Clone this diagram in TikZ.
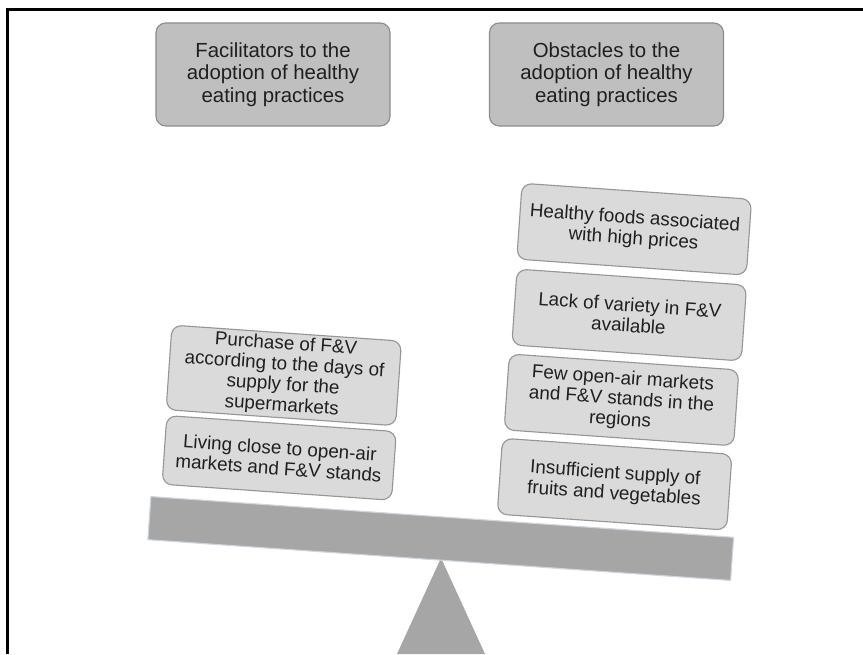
\documentclass[tikz,border=0pt]{standalone}
\usepackage{fontspec}
\setmainfont{Liberation Sans}
\usepackage{tikz}
\usepackage{xcolor}
\usetikzlibrary{positioning}
\definecolor{headfill}{RGB}{191,191,191}
\definecolor{headline}{RGB}{140,140,140}
\definecolor{itemfill}{RGB}{218,218,218}
\definecolor{itemline}{RGB}{150,150,150}
\definecolor{beamgray}{RGB}{166,166,166}
\definecolor{beamedge}{RGB}{205,214,224}

\begin{document}
\begin{tikzpicture}[
  x=0.025cm, y=0.025cm,
  head/.style={draw=headline, fill=headfill, line width=0.8pt, rounded corners=7pt, minimum width=5.85cm, minimum height=2.575cm, font=\fontsize{14.5}{16}\selectfont, align=center, text=black!88},
  item/.style={draw=itemline, fill=itemfill, line width=0.8pt, rounded corners=7pt, minimum width=5.75cm, minimum height=1.9cm, inner sep=2pt, font=\fontsize{13.4}{14.6}\selectfont, align=center, text=black!88, rotate=-4},
  beam/.style={draw=beamedge, fill=beamgray, line width=0.8pt, minimum width=14.6cm, minimum height=1.08cm, inner sep=0pt, rotate=-4},
  frame/.style={line width=0.06cm, black}
]
\useasboundingbox (0,0) rectangle (863,654);

% --- Frame (top and left edge only) ---
\draw[frame] (7.7,0) |- (863,644.5);

% --- Headings ---
\node[head] (facil) at (273,579.5) {Facilitators to the\\adoption of healthy\\eating practices};
\node[head] (obst) at (606.5,579.5) {Obstacles to the\\adoption of healthy\\eating practices};

% --- Fulcrum and beam ---
\fill[beamgray] (397,0) -- (441,96) -- (485,0) -- cycle;
\node[beam] (scale) at (440.75,115.5) {};

% --- Facilitators stack (left pan) ---
\node[item, minimum height=1.72cm] (living) at (279.2,196.1) {Living close to open-air\\markets and F\&V stands};
\node[item, minimum height=1.79cm] (purchase) at (283.8,278.6) {Purchase of F\&V\\according to the days of\\supply for the\\supermarkets};

% --- Obstacles stack (right pan) ---
\node[item] (supply) at (614.6,169.8) {Insufficient supply of\\fruits and vegetables};
\node[item] (markets) at (621.5,254.1) {Few open-air markets\\and F\&V stands in the\\regions};
\node[item] (variety) at (629.2,339) {Lack of variety in F\&V\\available};
\node[item] (prices) at (634.2,424.8) {Healthy foods associated\\with high prices};

\end{tikzpicture}
\end{document}
